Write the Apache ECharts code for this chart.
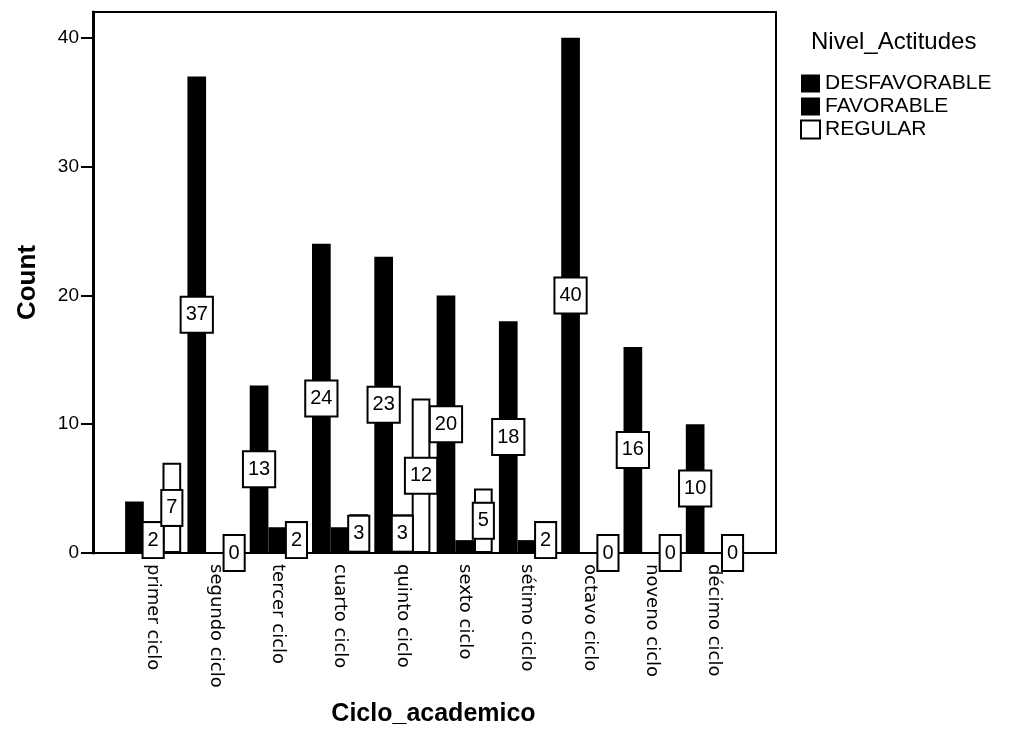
<!DOCTYPE html>
<html>
<head>
<meta charset="utf-8">
<script src="https://cdn.jsdelivr.net/npm/echarts@6/dist/echarts.min.js"></script>
<style>
html,body{margin:0;padding:0;background:#fff;}
#chart{width:1016px;height:754px;}
</style>
</head>
<body>
<div id="chart"></div>
<script>
// ---- data ----
const categories = ['primer ciclo','segundo ciclo','tercer ciclo','cuarto ciclo','quinto ciclo','sexto ciclo','sétimo ciclo','octavo ciclo','noveno ciclo','décimo ciclo'];
const seriesNames = ['DESFAVORABLE','FAVORABLE','REGULAR'];
const desfavorable = [4, 37, 13, 24, 23, 20, 18, 40, 16, 10];
const favorable    = [2,  0,  2,  2,  3,  1,  1,  0,  0,  0];
const regular      = [7,  0,  2,  3, 12,  5,  2,  0,  0,  0];
// which bars carry a visible count label in the reference
const labelDesf = [false, true, true, true, true, true, true, true, true, true];
const labelFav  = [true, false, false, false, true, false, false, false, false, false];
const labelReg  = [true, true, true, true, true, true, true, true, true, true];
const yTicks = [0, 10, 20, 30, 40];

const FONT = '"Liberation Sans", Arial, sans-serif';
const chart = echarts.init(document.getElementById('chart'), null, {renderer: 'canvas'});

const labelStyle = {
  position: 'inside',
  color: '#000',
  fontFamily: FONT,
  fontSize: 20,
  lineHeight: 20,
  backgroundColor: '#fff',
  borderColor: '#000',
  borderWidth: 2,
  padding: [7, 4, 7, 4]
};

function mk(values, flags) {
  return values.map((v, i) => ({value: v, label: {show: flags[i]}}));
}

const option = {
  backgroundColor: '#fff',
  animation: false,
  title: {
    text: 'Nivel_Actitudes',
    left: 806, top: 25,
    textStyle: {fontFamily: FONT, fontSize: 24, fontWeight: 'normal', color: '#000'}
  },
  legend: {
    orient: 'vertical',
    left: 795, top: 68,
    itemWidth: 19, itemHeight: 18, itemGap: 2,
    icon: 'rect',
    selectedMode: false,
    data: seriesNames,
    textStyle: {fontFamily: FONT, fontSize: 21, color: '#000'}
  },
  grid: [
    {left: 93, right: 240, top: 12, bottom: 201, show: true, borderColor: '#000', borderWidth: 2, backgroundColor: 'transparent'},
    {left: 122, right: 271, top: 12, bottom: 201}
  ],
  xAxis: [
    {gridIndex: 0, type: 'category', data: [''], axisLine: {show: false}, axisTick: {show: false}, axisLabel: {show: false}},
    {
      gridIndex: 1, type: 'category', data: categories,
      axisLine: {show: false}, axisTick: {show: false},
      axisLabel: {rotate: -90, margin: 11, color: '#000', fontFamily: '"DejaVu Sans", sans-serif', fontSize: 18},
      name: 'Ciclo_academico', nameLocation: 'middle', nameGap: 149,
      nameTextStyle: {fontFamily: FONT, fontSize: 25, fontWeight: 'bold', color: '#000'}
    }
  ],
  yAxis: [
    {
      gridIndex: 0, type: 'value', min: 0, max: 42, interval: 10,
      axisLine: {show: true, lineStyle: {color: '#000', width: 3}},
      axisTick: {show: true, length: 12, lineStyle: {color: '#000', width: 2}, customValues: yTicks},
      axisLabel: {color: '#000', fontFamily: FONT, fontSize: 19, margin: 14, customValues: yTicks,
                  formatter: v => (v % 10 === 0 ? String(v) : '')},
      splitLine: {show: false},
      name: 'Count', nameLocation: 'middle', nameGap: 52,
      nameTextStyle: {fontFamily: FONT, fontSize: 26, fontWeight: 'bold', color: '#000'}
    },
    {gridIndex: 1, type: 'value', min: 0, max: 42, show: false, splitLine: {show: false}}
  ],
  series: [
    {
      name: seriesNames[0], type: 'bar', xAxisIndex: 1, yAxisIndex: 1,
      barGap: '0%', barCategoryGap: '10%',
      itemStyle: {color: '#000'},
      label: labelStyle,
      data: mk(desfavorable, labelDesf)
    },
    {
      name: seriesNames[1], type: 'bar', xAxisIndex: 1, yAxisIndex: 1,
      barGap: '0%', barCategoryGap: '10%',
      itemStyle: {color: '#000'},
      label: labelStyle,
      data: mk(favorable, labelFav)
    },
    {
      name: seriesNames[2], type: 'bar', xAxisIndex: 1, yAxisIndex: 1,
      barGap: '0%', barCategoryGap: '10%',
      itemStyle: {color: '#fff', borderColor: '#000', borderWidth: 2},
      label: labelStyle,
      data: mk(regular, labelReg)
    }
  ]
};
chart.setOption(option);
</script>
</body>
</html>
